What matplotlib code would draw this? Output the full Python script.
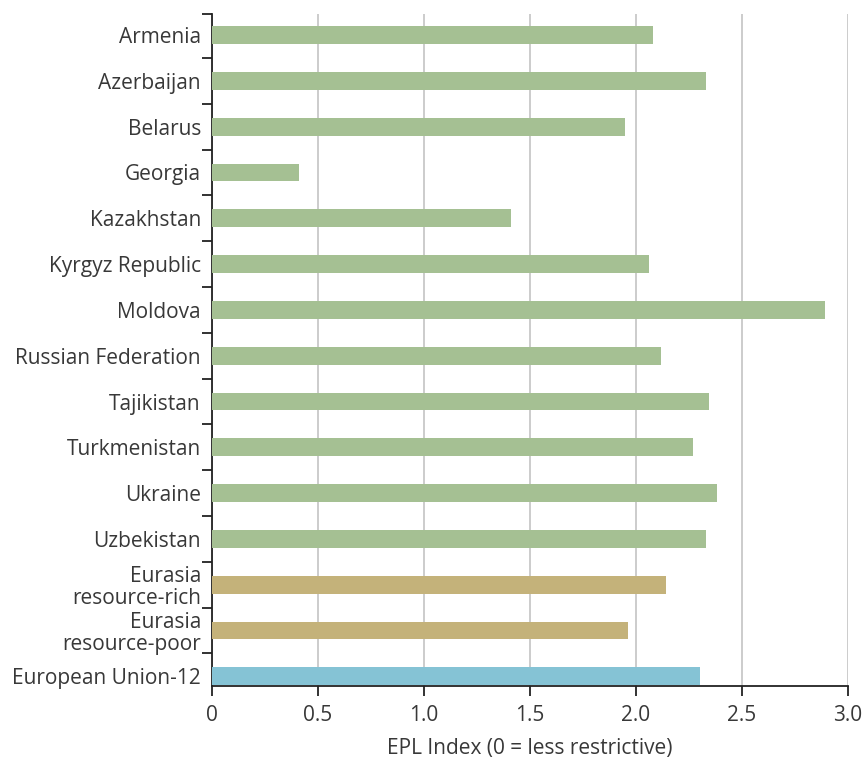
import numpy as np
import matplotlib.pyplot as plt

plt.rcParams['font.family'] = ['Open Sans', 'DejaVu Sans']

# EPL index by country / group
countries = ['Armenia', 'Azerbaijan', 'Belarus', 'Georgia', 'Kazakhstan',
             'Kyrgyz Republic', 'Moldova', 'Russian Federation', 'Tajikistan',
             'Turkmenistan', 'Ukraine', 'Uzbekistan',
             'Eurasia\nresource-rich', 'Eurasia\nresource-poor', 'European Union-12']
epl = [2.08, 2.33, 1.95, 0.41, 1.41, 2.06, 2.89, 2.12, 2.345,
       2.27, 2.38, 2.33, 2.14, 1.96, 2.30]
groups = ['country'] * 12 + ['eurasia', 'eurasia', 'eu']

colors = {'country': '#a5c093', 'eurasia': '#c4b27a', 'eu': '#85c3d5'}
text_col = '#383838'
fs = 15

fig = plt.figure(figsize=(8.64, 7.6), dpi=100)
ax = fig.add_axes([0.2454, 0.0974, 0.7361, 0.8842])

y = np.arange(len(countries))
ax.barh(y, epl, height=0.39, color=[colors[g] for g in groups], zorder=3)

ax.set_xlim(0, 3.0)
ax.set_ylim(14.21, -0.46)
ax.set_xticks([0, 0.5, 1.0, 1.5, 2.0, 2.5, 3.0])
ax.set_xticklabels(['0', '0.5', '1.0', '1.5', '2.0', '2.5', '3.0'])
ax.xaxis.grid(True, color='#c8c8c8', linewidth=1.3, zorder=0)

# category labels centred on the bars, tick marks between them
ax.set_yticks(y)
ax.set_yticklabels(countries, linespacing=1.05)
ax.tick_params(axis='y', which='major', length=0, pad=8, labelsize=fs, labelcolor=text_col)
ax.set_yticks(np.append(-0.46, y[:-1] + 0.5), minor=True)
ax.tick_params(axis='y', which='minor', length=7, width=1.3, color='#222222', direction='out')
ax.tick_params(axis='x', length=7, width=1.3, color='#222222', pad=7,
               labelsize=fs, labelcolor=text_col)

for s in ['top', 'right']:
    ax.spines[s].set_visible(False)
for s in ['left', 'bottom']:
    ax.spines[s].set_color('#222222')
    ax.spines[s].set_linewidth(1.3)

ax.set_xlabel('EPL Index (0 = less restrictive)', fontsize=fs, color=text_col, labelpad=8)

fig.savefig('out.png', dpi=100)
